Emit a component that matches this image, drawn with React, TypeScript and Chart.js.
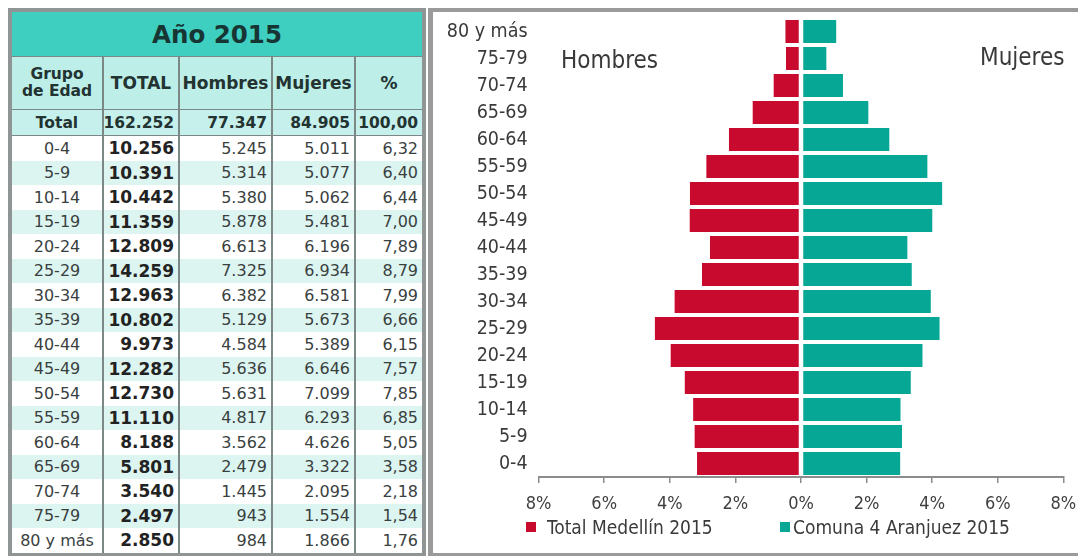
import React, { useEffect, useRef } from "react";
import { Chart, registerables } from "chart.js";

Chart.register(...registerables);

// ---------- DATA ----------
const ageGroups = [
  "0-4", "5-9", "10-14", "15-19", "20-24", "25-29", "30-34", "35-39", "40-44",
  "45-49", "50-54", "55-59", "60-64", "65-69", "70-74", "75-79", "80 y más",
];
const totalCol = [
  "10.256", "10.391", "10.442", "11.359", "12.809", "14.259", "12.963", "10.802", "9.973",
  "12.282", "12.730", "11.110", "8.188", "5.801", "3.540", "2.497", "2.850",
];
const hombresCol = [
  "5.245", "5.314", "5.380", "5.878", "6.613", "7.325", "6.382", "5.129", "4.584",
  "5.636", "5.631", "4.817", "3.562", "2.479", "1.445", "943", "984",
];
const mujeresCol = [
  "5.011", "5.077", "5.062", "5.481", "6.196", "6.934", "6.581", "5.673", "5.389",
  "6.646", "7.099", "6.293", "4.626", "3.322", "2.095", "1.554", "1.866",
];
const pctCol = [
  "6,32", "6,40", "6,44", "7,00", "7,89", "8,79", "7,99", "6,66", "6,15",
  "7,57", "7,85", "6,85", "5,05", "3,58", "2,18", "1,54", "1,76",
];
const totalRow = ["Total", "162.252", "77.347", "84.905", "100,00"];
const headerRow = ["Grupo de Edad", "TOTAL", "Hombres", "Mujeres", "%"];
const tableTitle = "Año 2015";

// Pyramid values (percent)
const medellinPct = [
  3.17, 3.25, 3.29, 3.55, 3.98, 4.46, 3.86, 3.02, 2.78,
  3.40, 3.39, 2.89, 2.20, 1.48, 0.84, 0.46, 0.48,
];
const aranjuezPct = [
  3.03, 3.08, 3.04, 3.35, 3.71, 4.23, 3.96, 3.38, 3.25,
  4.01, 4.31, 3.86, 2.70, 2.06, 1.28, 0.78, 1.08,
];
const seriesNames = ["Total Medellín 2015", "Comuna 4 Aranjuez 2015"];
const xTickValues = [-8, -6, -4, -2, 0, 2, 4, 6, 8];
const xTickLabels = ["8%", "6%", "4%", "2%", "0%", "2%", "4%", "6%", "8%"];
const sideLabels = ["Hombres", "Mujeres"];

// ---------- STYLE ----------
const RED = "#C80A2E";
const TEAL = "#06A795";
const CHART_FONT =
  "'DejaVu Sans Condensed', 'Liberation Sans Narrow', 'Roboto Condensed', 'DejaVu Sans', sans-serif";
const TABLE_FONT = "'DejaVu Sans', 'Noto Sans', sans-serif";
const COLS = [92, 76, 93, 83, 66];
const LINE = "#7c8886";

function cellStyle(i: number, align: "center" | "right"): React.CSSProperties {
  return {
    width: COLS[i],
    boxSizing: "border-box",
    borderRight: i < COLS.length - 1 ? `2px solid ${LINE}` : "none",
    display: "flex",
    alignItems: "center",
    justifyContent: align === "center" ? "center" : "flex-end",
    paddingRight: align === "center" ? 0 : 4,
    height: "100%",
    whiteSpace: "nowrap",
  };
}

function DataTable() {
  const rowH = 24.5;
  return (
    <div
      style={{
        position: "absolute",
        left: 8,
        top: 8,
        width: 418,
        height: 549,
        boxSizing: "border-box",
        border: "4px solid #8e9594",
        fontFamily: TABLE_FONT,
        color: "#2e3434",
        background: "#fff",
        overflow: "hidden",
      }}
    >
      <div
        style={{
          height: 45,
          background: "#3ECFC1",
          display: "flex",
          alignItems: "center",
          justifyContent: "center",
          fontWeight: "bold",
          fontSize: 24.5,
          color: "#173532",
          borderBottom: `1px solid ${LINE}`,
          boxSizing: "border-box",
        }}
      >
        {tableTitle}
      </div>
      <div
        style={{
          height: 53,
          display: "flex",
          background: "#BDEEE8",
          fontWeight: "bold",
          fontSize: 17,
          color: "#223331",
          borderBottom: `1px solid ${LINE}`,
          boxSizing: "border-box",
        }}
      >
        {headerRow.map((h, i) => (
          <div key={i} style={{ ...cellStyle(i, "center"), textAlign: "center" }}>
            {i === 0 ? (
              <span style={{ fontSize: 15.5, lineHeight: "17px" }}>
                Grupo
                <br />
                de Edad
              </span>
            ) : (
              h
            )}
          </div>
        ))}
      </div>
      <div
        style={{
          height: 26,
          display: "flex",
          background: "#C6F0EB",
          fontWeight: "bold",
          fontSize: 15.5,
          color: "#223331",
          borderBottom: `1px solid ${LINE}`,
          boxSizing: "border-box",
        }}
      >
        {totalRow.map((v, i) => (
          <div key={i} style={cellStyle(i, i === 0 ? "center" : "right")}>
            {v}
          </div>
        ))}
      </div>
      {ageGroups.map((g, r) => {
        const vals = [g, totalCol[r], hombresCol[r], mujeresCol[r], pctCol[r]];
        return (
          <div
            key={g}
            style={{
              height: rowH,
              display: "flex",
              background: r % 2 === 0 ? "#FFFFFF" : "#DDF5F1",
              fontSize: 16,
            }}
          >
            {vals.map((v, i) => (
              <div
                key={i}
                style={{
                  ...cellStyle(i, i === 0 ? "center" : "right"),
                  fontWeight: i === 1 ? "bold" : "normal",
                  fontSize: i === 1 ? 17 : 16,
                  color: i === 1 ? "#222" : "#3a3f3f",
                }}
              >
                {v}
              </div>
            ))}
          </div>
        );
      })}
    </div>
  );
}

function Pyramid() {
  const canvasRef = useRef<HTMLCanvasElement | null>(null);

  useEffect(() => {
    if (!canvasRef.current) return;
    const chart = new Chart(canvasRef.current, {
      type: "bar",
      data: {
        labels: ageGroups,
        datasets: [
          {
            label: seriesNames[0],
            data: medellinPct.map((v) => -v),
            backgroundColor: RED,
            borderColor: "#ffffff",
            borderWidth: { right: 1.5 } as any,
            borderSkipped: false,
            barPercentage: 0.86,
            categoryPercentage: 1,
          },
          {
            label: seriesNames[1],
            data: aranjuezPct,
            backgroundColor: TEAL,
            borderColor: "#ffffff",
            borderWidth: { left: 1.5 } as any,
            borderSkipped: false,
            barPercentage: 0.86,
            categoryPercentage: 1,
          },
        ],
      },
      options: {
        indexAxis: "y",
        animation: false,
        responsive: false,
        maintainAspectRatio: false,
        layout: { padding: { top: 6, right: 14.6, bottom: 43, left: 0 } },
        plugins: {
          legend: { display: false },
          tooltip: { enabled: false },
        },
        scales: {
          x: {
            stacked: true,
            min: -8,
            max: 8,
            afterBuildTicks: (s: any) => {
              s.ticks = xTickValues.map((v) => ({ value: v }));
            },
            ticks: {
              callback: (_v: any, i: number) => xTickLabels[i],
              font: { family: CHART_FONT, size: 18 },
              color: "#3f3f3f",
              padding: 11,
              maxRotation: 0,
            },
            grid: {
              drawOnChartArea: false,
              drawTicks: true,
              tickLength: 6,
              color: "#8c8c8c",
              lineWidth: 1.5,
            },
            border: { display: true, color: "#8c8c8c", width: 2 },
            afterFit: (s: any) => {
              s.height = 33;
              s.paddingLeft = 0;
              s.paddingRight = 0;
            },
          },
          y: {
            stacked: true,
            reverse: true,
            grid: { display: false, drawTicks: false },
            border: { display: false },
            ticks: {
              autoSkip: false,
              font: { family: CHART_FONT, size: 19.5 },
              color: "#3a3a3a",
              padding: 11,
            },
            afterFit: (s: any) => {
              s.width = 105.6;
              s.paddingTop = 0;
              s.paddingBottom = 0;
            },
          },
        },
      },
    } as any);
    return () => chart.destroy();
  }, []);

  return <canvas ref={canvasRef} width={645} height={541} style={{ display: "block" }} />;
}

export default function App() {
  const txt: React.CSSProperties = {
    position: "absolute",
    fontFamily: CHART_FONT,
    color: "#3a3a3a",
    whiteSpace: "nowrap",
  };
  return (
    <div style={{ position: "absolute", left: 0, top: 0, width: 1078, height: 556, overflow: "hidden", background: "#fff" }}>
      <DataTable />
      <div
        style={{
          position: "absolute",
          left: 428,
          top: 8,
          width: 700,
          height: 549,
          boxSizing: "border-box",
          borderLeft: "5px solid #9a9a9a",
          borderTop: "4px solid #9a9a9a",
          borderBottom: "4px solid #9a9a9a",
        }}
      />
      <div style={{ position: "absolute", left: 433, top: 12 }}>
        <Pyramid />
      </div>
      <div style={{ ...txt, left: 561, top: 45, fontSize: 24, lineHeight: "30px" }}>{sideLabels[0]}</div>
      <div style={{ ...txt, left: 980, top: 42, fontSize: 24, lineHeight: "30px" }}>{sideLabels[1]}</div>
      <div style={{ position: "absolute", left: 526, top: 522, width: 10, height: 10, background: RED }} />
      <div style={{ ...txt, left: 547, top: 515, fontSize: 19, lineHeight: "24px" }}>{seriesNames[0]}</div>
      <div style={{ position: "absolute", left: 780, top: 522, width: 10, height: 10, background: TEAL }} />
      <div style={{ ...txt, left: 793, top: 515, fontSize: 19, lineHeight: "24px" }}>{seriesNames[1]}</div>
    </div>
  );
}
